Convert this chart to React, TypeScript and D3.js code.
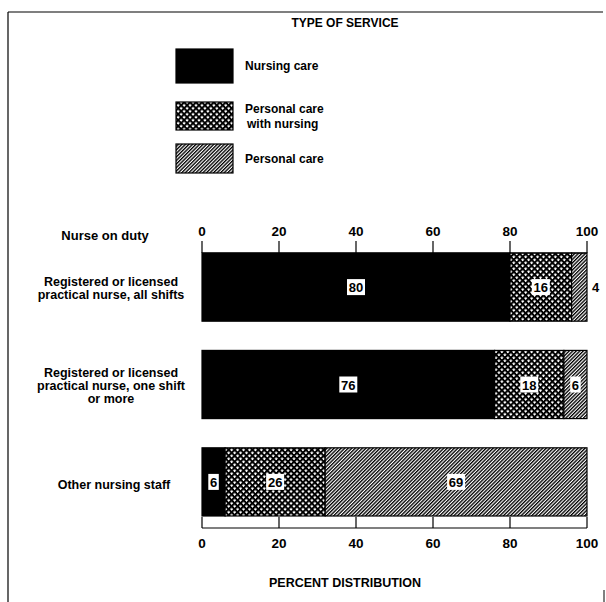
import React from "react";
import * as d3 from "d3";

const categories = [
  ["Registered or licensed", "practical nurse, all shifts"],
  ["Registered or licensed", "practical nurse, one shift", "or more"],
  ["Other nursing staff"],
];
const categoryKeys = ["rn_all", "rn_one", "other"];
const nursingCare = [80, 76, 6];
const personalWithNursing = [16, 18, 26];
const personalCare = [4, 6, 69];
const seriesNames = ["Nursing care", "Personal care\nwith nursing", "Personal care"];
const tickValues = [0, 20, 40, 60, 80, 100];

const W = 606;
const H = 602;
const FONT = "'Liberation Sans', Arial, sans-serif";

export default function App() {
  const keys = ["nursing", "pwn", "personal"];
  const rows = categoryKeys.map((k, i) => ({
    cat: k,
    nursing: nursingCare[i],
    pwn: personalWithNursing[i],
    personal: personalCare[i],
  }));
  const stacked = d3.stack<any>().keys(keys)(rows);

  const x = d3.scaleLinear().domain([0, 100]).range([202, 587]).clamp(true);
  const y = d3.scaleBand().domain(categoryKeys).range([253, 516]).paddingInner(0.3);
  const fills = ["#000", "url(#cross)", "url(#hatch)"];

  const topAxisY = 253;
  const botAxisY = 528;

  return (
    <svg width={W} height={H} style={{ position: "absolute", left: 0, top: 0 }}>
      <defs>
        <pattern id="cross" width="4.2" height="4.2" patternUnits="userSpaceOnUse" patternTransform="rotate(45)">
          <rect width="4.2" height="4.2" fill="#fff" />
          <rect x="0" y="0" width="4.2" height="2" fill="#000" />
          <rect x="0" y="0" width="2" height="4.2" fill="#000" />
        </pattern>
        <pattern id="hatch" width="2.5" height="2.5" patternUnits="userSpaceOnUse" patternTransform="rotate(45)">
          <rect width="2.5" height="2.5" fill="#fff" />
          <rect x="0" y="0" width="1.35" height="2.5" fill="#000" />
        </pattern>
      </defs>
      <rect width={W} height={H} fill="#fff" />
      {/* frame */}
      <line x1={8} y1={12} x2={603} y2={12} stroke="#000" strokeWidth={1.2} />
      <line x1={8} y1={12} x2={8} y2={602} stroke="#000" strokeWidth={1.2} />
      <line x1={604} y1={590} x2={604} y2={602} stroke="#000" strokeWidth={1} />

      {/* legend */}
      <text x={345} y={27} textAnchor="middle" fontFamily={FONT} fontWeight="bold" fontSize={12}>
        TYPE OF SERVICE
      </text>
      {seriesNames.map((name, i) => {
        const boxY = [49, 102, 144][i];
        const boxH = [34, 28, 29][i];
        const lines = name.split("\n");
        const cy = boxY + boxH / 2;
        return (
          <g key={name}>
            <rect x={176} y={boxY} width={57} height={boxH} fill={fills[i]} stroke="#000" strokeWidth={1.2} />
            {lines.map((l, j) => (
              <text
                key={j}
                x={245 + (j > 0 ? 2 : 0)}
                y={cy + (j - (lines.length - 1) / 2) * 15 + 4}
                fontFamily={FONT}
                fontWeight="bold"
                fontSize={12}
              >
                {l}
              </text>
            ))}
          </g>
        );
      })}

      {/* left header */}
      <text x={105} y={240} textAnchor="middle" fontFamily={FONT} fontWeight="bold" fontSize={13}>
        Nurse on duty
      </text>

      {/* category labels */}
      {categories.map((lines, i) => {
        const cy = (y(categoryKeys[i]) as number) + y.bandwidth() / 2 + (lines.length === 1 ? 3 : 1);
        return (
          <g key={i}>
            {lines.map((l, j) => (
              <text
                key={j}
                x={i === 2 ? 114 : 111}
                y={cy + (j - (lines.length - 1) / 2) * 13 + 4.5}
                textAnchor="middle"
                fontFamily={FONT}
                fontWeight="bold"
                fontSize={12.5}
              >
                {l}
              </text>
            ))}
          </g>
        );
      })}

      {/* bars */}
      {stacked.map((series, si) => (
        <g key={series.key}>
          {series.map((d, ci) => {
            const x0 = x(d[0]);
            const x1 = x(d[1]);
            const by = y(categoryKeys[ci]) as number;
            return (
              <rect
                key={ci}
                x={x0}
                y={by}
                width={Math.max(0, x1 - x0)}
                height={y.bandwidth()}
                fill={fills[si]}
                stroke="#000"
                strokeWidth={1.2}
              />
            );
          })}
        </g>
      ))}

      {/* value labels */}
      {stacked.map((series, si) => (
        <g key={"l" + series.key}>
          {series.map((d, ci) => {
            const v = d[1] - d[0];
            const x0 = x(d[0]);
            const x1 = x(d[1]);
            const cy = (y(categoryKeys[ci]) as number) + y.bandwidth() / 2;
            const label = String(v);
            if (v < 5) {
              return (
                <text key={ci} x={x1 + 5} y={cy + 5} fontFamily={FONT} fontWeight="bold" fontSize={13}>
                  {label}
                </text>
              );
            }
            const cx = (x0 + x1) / 2;
            const w = label.length * 7.5 + 3;
            return (
              <g key={ci}>
                <rect x={cx - w / 2} y={cy - 8} width={w} height={16} fill="#fff" />
                <text x={cx} y={cy + 5} textAnchor="middle" fontFamily={FONT} fontWeight="bold" fontSize={13}>
                  {label}
                </text>
              </g>
            );
          })}
        </g>
      ))}

      {/* top axis */}
      <line x1={x(0)} y1={topAxisY} x2={x(100)} y2={topAxisY} stroke="#000" strokeWidth={1.2} />
      {tickValues.map((t) => (
        <g key={"tt" + t}>
          <line x1={x(t)} y1={topAxisY - 12} x2={x(t)} y2={topAxisY} stroke="#000" strokeWidth={1.2} />
          <text x={x(t)} y={236} textAnchor="middle" fontFamily={FONT} fontWeight="bold" fontSize={13.5}>
            {t}
          </text>
        </g>
      ))}

      {/* bottom axis */}
      <line x1={x(0)} y1={botAxisY} x2={x(100)} y2={botAxisY} stroke="#000" strokeWidth={1.2} />
      {tickValues.map((t) => (
        <g key={"bt" + t}>
          <line x1={x(t)} y1={botAxisY - 11} x2={x(t)} y2={botAxisY} stroke="#000" strokeWidth={1.2} />
          <text x={x(t)} y={548} textAnchor="middle" fontFamily={FONT} fontWeight="bold" fontSize={13.5}>
            {t}
          </text>
        </g>
      ))}

      <text x={345} y={587} textAnchor="middle" fontFamily={FONT} fontWeight="bold" fontSize={12.5}>
        PERCENT DISTRIBUTION
      </text>
    </svg>
  );
}
